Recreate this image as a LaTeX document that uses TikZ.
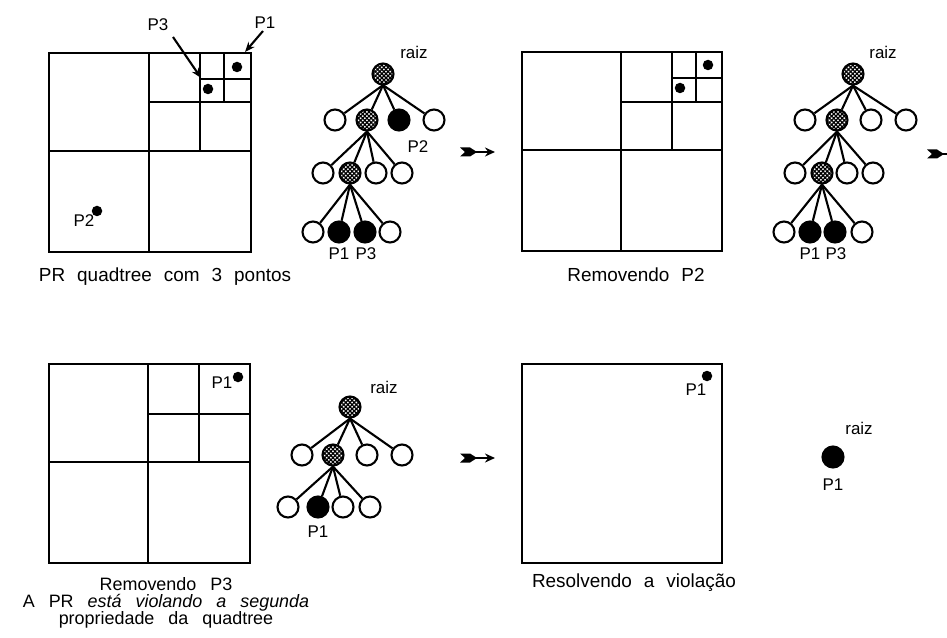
\documentclass[tikz,border=0pt]{standalone}
\usepackage{fontspec}
\setmainfont{Liberation Sans}
\usetikzlibrary{arrows.meta,patterns.meta}

\newcommand\widewords{\spaceskip=12bp plus 2bp\relax}
\newcommand\widerwords{\spaceskip=14bp plus 2bp\relax}

\tikzset{
  txt/.style={inner sep=0pt, font={\fontsize{17}{16}\selectfont}},
  caption/.style={inner sep=0pt, align=center, font={\fontsize{19}{16.6}\selectfont\widewords}},
  note/.style={inner sep=0pt, align=center, font={\fontsize{18}{17}\selectfont\widerwords}},
  frame/.style={line width=2.8bp},
  cell/.style={line width=2.3bp},
  pt/.style={circle, fill=black, inner sep=0pt, minimum size=10.5bp},
  leaf/.style={circle, draw, line width=2.1bp, fill=white, inner sep=0pt, minimum size=21bp},
  full/.style={leaf, fill=black},
  inner/.style={leaf, pattern={Hatch[angle=45,distance=3bp,line width=1.25bp]}},
  edge/.style={line width=2.1bp},
  ptr/.style={line width=2.1bp, -{Stealth[length=10bp,width=8bp]}},
  feather/.pic={
    \fill (0,-4.5) -- (10,-4.5) -- (17,0) -- (10,4.5) -- (0,4.5) -- (5,0) -- cycle;
    \draw[line width=1.6bp, -{Stealth[length=10bp,width=9bp]}] (15,0) -- (35,0);
  },
}

\begin{document}
\begin{tikzpicture}[x=1bp, y=-1bp]
\useasboundingbox (0,0) rectangle (947,638);

% ---------- PR quadtree with three points ----------
\begin{scope}[shift={(49,53)}]
  \draw[frame] (0,0) rectangle (202,199);
  \draw[cell] (100,0) -- (100,199) (0,98) -- (202,98);
  \draw[cell] (151,0) -- (151,98) (100,49) -- (202,49);
  \draw[cell] (175,0) -- (175,49) (151,26) -- (202,26);
  \node[pt] (q1p1) at (188,14) {};
  \node[pt] (q1p3) at (159,36) {};
  \node[pt] (q1p2) at (48,158) {};
\end{scope}
\node[txt] (q1l3) at (158,25) {P3};
\node[txt] (q1l1) at (265,23) {P1};
\node[txt] (q1l2) at (84,221) {P2};
\coordinate (a3s) at (173,37);
\coordinate (a3e) at (201,78);
\coordinate (a1s) at (263,31);
\coordinate (a1e) at (245,52);
\draw[ptr] (a3s) -- (a3e);
\draw[ptr] (a1s) -- (a1e);
\node[caption] (cap1) at (165,277) {PR quadtree com 3 pontos};

% ---------- tree with three points ----------
\node[inner] (t1r) at (383,74) {};
\node[txt] (t1raiz) at (414,52) {raiz};
\node[leaf]  (t1a1) at (335,120) {};
\node[inner] (t1a2) at (367,120) {};
\node[full]  (t1a3) at (399,120) {};
\node[leaf]  (t1a4) at (434,120) {};
\node[leaf]  (t1b1) at (323,173) {};
\node[inner] (t1b2) at (350,173) {};
\node[leaf]  (t1b3) at (376,173) {};
\node[leaf]  (t1b4) at (402,173) {};
\node[leaf]  (t1c1) at (313,232) {};
\node[full]  (t1c2) at (339,232) {};
\node[full]  (t1c3) at (365,232) {};
\node[leaf]  (t1c4) at (390,232) {};
\foreach \c in {a1,a2,a3,a4} \draw[edge] (t1r.south) -- (t1\c);
\foreach \c in {b1,b2,b3,b4} \draw[edge] (t1a2.south) -- (t1\c);
\foreach \c in {c1,c2,c3,c4} \draw[edge] (t1b2.south) -- (t1\c);
\node[txt] (t1p2) at (418,147) {P2};
\node[txt] (t1p1) at (339,254) {P1};
\node[txt] (t1p3) at (366,254) {P3};

\pic at (460,152) {feather};

% ---------- after removing P2 ----------
\begin{scope}[shift={(522,52)}]
  \draw[frame] (0,0) rectangle (200,199);
  \draw[cell] (99,0) -- (99,199) (0,98) -- (200,98);
  \draw[cell] (150,0) -- (150,98) (99,50) -- (200,50);
  \draw[cell] (174,0) -- (174,50) (150,26) -- (200,26);
  \node[pt] (q2p1) at (186,13) {};
  \node[pt] (q2p3) at (158,36) {};
\end{scope}
\node[caption] (cap2) at (636,275) {Removendo P2};

\node[inner] (t2r) at (853,74) {};
\node[txt] (t2raiz) at (883,52) {raiz};
\node[leaf]  (t2a1) at (805,120) {};
\node[inner] (t2a2) at (837,120) {};
\node[leaf]  (t2a3) at (871,120) {};
\node[leaf]  (t2a4) at (906,120) {};
\node[leaf]  (t2b1) at (795,173) {};
\node[inner] (t2b2) at (822,173) {};
\node[leaf]  (t2b3) at (847,173) {};
\node[leaf]  (t2b4) at (873,173) {};
\node[leaf]  (t2c1) at (784,232) {};
\node[full]  (t2c2) at (810,232) {};
\node[full]  (t2c3) at (835,232) {};
\node[leaf]  (t2c4) at (862,232) {};
\foreach \c in {a1,a2,a3,a4} \draw[edge] (t2r.south) -- (t2\c);
\foreach \c in {b1,b2,b3,b4} \draw[edge] (t2a2.south) -- (t2\c);
\foreach \c in {c1,c2,c3,c4} \draw[edge] (t2b2.south) -- (t2\c);
\node[txt] (t2p1) at (810,254) {P1};
\node[txt] (t2p3) at (836,254) {P3};

\pic at (927,154) {feather};

% ---------- after removing P3 ----------
\begin{scope}[shift={(49,364)}]
  \draw[frame] (0,0) rectangle (201,199);
  \draw[cell] (99,0) -- (99,199) (0,98) -- (201,98);
  \draw[cell] (150,0) -- (150,98) (99,50) -- (201,50);
  \node[pt] (q3p1) at (189,13) {};
\end{scope}
\node[txt] (q3l1) at (222,383) {P1};
\node[note] (cap3) at (166,603)
  {Removendo P3\\A PR \textit{está violando a segunda}\\propriedade da quadtree};

\node[inner] (t3r) at (350,407) {};
\node[txt] (t3raiz) at (384,387) {raiz};
\node[leaf]  (t3a1) at (302,455) {};
\node[inner] (t3a2) at (333,455) {};
\node[leaf]  (t3a3) at (367,455) {};
\node[leaf]  (t3a4) at (402,455) {};
\node[leaf]  (t3b1) at (288,507) {};
\node[full]  (t3b2) at (318,507) {};
\node[leaf]  (t3b3) at (343,507) {};
\node[leaf]  (t3b4) at (370,507) {};
\foreach \c in {a1,a2,a3,a4} \draw[edge] (t3r.south) -- (t3\c);
\foreach \c in {b1,b2,b3,b4} \draw[edge] (t3a2.south) -- (t3\c);
\node[txt] (t3p1) at (318,532) {P1};

\pic at (460,458) {feather};

% ---------- violation resolved ----------
\begin{scope}[shift={(522,364)}]
  \draw[frame] (0,0) rectangle (200,199);
  \node[pt] (q4p1) at (185,12) {};
\end{scope}
\node[txt] (q4l1) at (696,390) {P1};
\node[caption] (cap4) at (634,583) {Resolvendo a violação};

\node[full] (t4r) at (833,457) {};
\node[txt] (t4raiz) at (859,428) {raiz};
\node[txt] (t4p1) at (833,485) {P1};
\end{tikzpicture}
\end{document}
